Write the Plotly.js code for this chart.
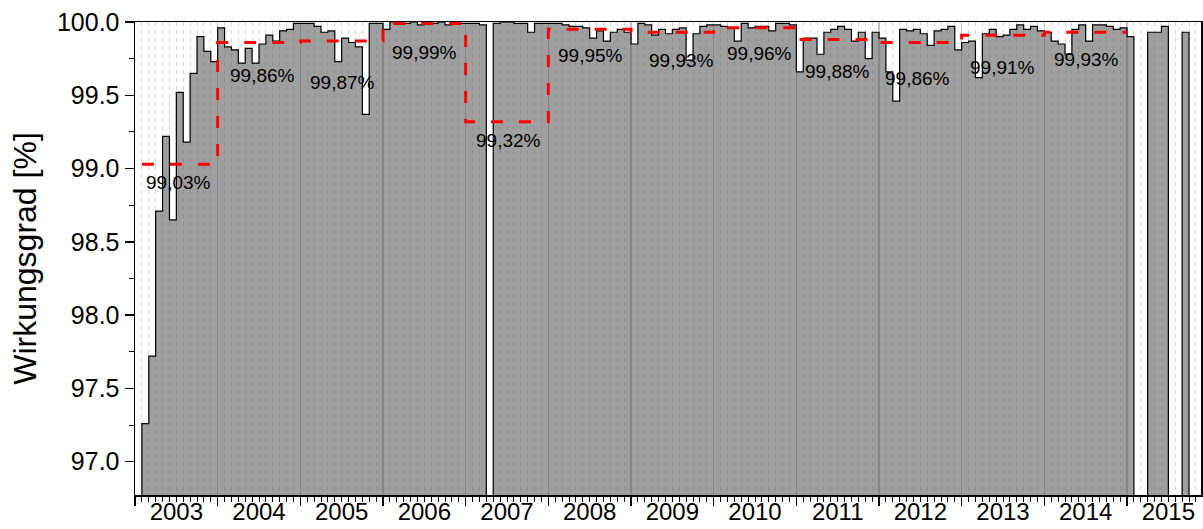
<!DOCTYPE html>
<html><head><meta charset="utf-8">
<script src="https://cdn.plot.ly/plotly-3.0.1.min.js"></script>
<style>html,body{margin:0;padding:0;background:#fff}</style>
</head><body>
<div id="chart" style="width:1203px;height:529px"></div>
<script>
// ---- data (monthly efficiency in %, null = no data) ----
const years = [2003, 2004, 2005, 2006, 2007, 2008, 2009, 2010, 2011, 2012, 2013, 2014, 2015];
const m2003 = [null, 97.26, 97.72, 98.71, 99.22, 98.65, 99.52, 99.18, 99.65, 99.90, 99.80, 99.73];
const m2004 = [99.96, 99.83, 99.81, 99.72, 99.82, 99.72, 99.85, 99.91, 99.87, 99.94, 99.95, 99.99];
const m2005 = [99.99, 99.99, 99.97, 99.93, 99.94, 99.73, 99.89, 99.86, 99.83, 99.37, 99.99, 99.99];
const m2006 = [99.95, 100.0, 100.0, 99.99, 100.0, 99.98, 99.99, 99.99, 100.0, 99.98, 99.99, 99.99];
const m2007 = [99.99, 99.99, 99.98, 92.00, 99.99, 100.0, 100.0, 99.99, 99.99, 99.93, 99.99, 99.99];
const m2008 = [99.99, 99.99, 99.98, 99.97, 99.97, 99.96, 99.89, 99.94, 99.87, 99.93, 99.95, 99.93];
const m2009 = [99.85, 99.99, 99.98, 99.91, 99.95, 99.92, 99.95, 99.96, 99.74, 99.92, 99.97, 99.98];
const m2010 = [99.98, 99.97, 99.96, 99.87, 99.99, 99.96, 99.97, 99.97, 99.94, 99.99, 99.99, 99.98];
const m2011 = [99.66, 99.89, 99.89, 99.78, 99.93, 99.95, 99.97, 99.95, 99.87, 99.93, 99.75, 99.93];
const m2012 = [99.89, 99.66, 99.46, 99.95, 99.94, 99.95, 99.92, 99.84, 99.94, 99.95, 99.97, 99.81];
const m2013 = [99.86, 99.87, 99.62, 99.92, 99.95, 99.90, 99.91, 99.95, 99.98, 99.95, 99.97, 99.94];
const m2014 = [99.93, 99.87, 99.85, 99.78, 99.95, 99.98, 99.87, 99.98, 99.98, 99.97, 99.95, 99.96];
const m2015 = [99.90, null, null, 99.93, 99.93, 99.97, null, null, 99.93];

// yearly averages as labelled in the chart (2003 - 2014)
const avgYears = [2003, 2004, 2005, 2006, 2007, 2008, 2009, 2010, 2011, 2012, 2013, 2014];
const yearAvg  = [99.03, 99.86, 99.87, 99.99, 99.32, 99.95, 99.93, 99.96, 99.88, 99.86, 99.91, 99.93];

// ---- label placement (style, pixels) ----
const labelDown  = [18, 33, 41, 29, 19, 26, 28, 26, 32, 36, 32, 27];
const labelShift = [2, 3, 1, 0, 1, 1, 9, 4, 0, -3, -1, 1];

const monthly = [].concat(m2003, m2004, m2005, m2006, m2007, m2008, m2009, m2010,
                          m2011, m2012, m2013, m2014, m2015);

// step outline / filled bars (months on a uniform axis, 1 unit = 1 month)
const stepX = [], stepY = [];
monthly.forEach((v, i) => { stepX.push(i); stepY.push(v === null ? 0 : v); });
stepX.push(monthly.length); stepY.push(0);

// yearly average dashed step line
const avgX = [], avgY = [];
avgYears.forEach((yr, k) => {
  const base = (yr - years[0]) * 12;
  let first = base;
  while (monthly[first] === null) first++;
  avgX.push(first, base + 12);
  avgY.push(yearAvg[k], yearAvg[k]);
});

const yearCenters = years.map(y => (y - years[0]) * 12 + 6);
const xRange = [0, 154.74];

const traces = [
  {
    type: 'scatter', mode: 'lines', x: stepX, y: stepY,
    line: {shape: 'hv', color: '#000', width: 1.2},
    fill: 'tozeroy', fillcolor: 'rgba(90,90,90,0.58)',
    hoverinfo: 'skip', showlegend: false
  },
  {
    type: 'scatter', mode: 'lines', x: avgX, y: avgY, xaxis: 'x2', yaxis: 'y',
    line: {color: '#ff0000', width: 3, dash: '12px,16px'},
    hoverinfo: 'skip', showlegend: false
  }
];

const annotations = avgYears.map((yr, k) => ({
  x: (yr - years[0]) * 12 + 6, y: yearAvg[k], xref: 'x', yref: 'y',
  text: yearAvg[k].toFixed(2).replace('.', ',') + '%',
  showarrow: false, yanchor: 'middle', xanchor: 'center',
  yshift: -labelDown[k], xshift: labelShift[k],
  font: {family: 'Liberation Sans, Arial, sans-serif', size: 19, color: '#000'}
}));

const layout = {
  width: 1203, height: 529,
  margin: {l: 135, r: 2, t: 22, b: 34, pad: 0},
  paper_bgcolor: '#fff', plot_bgcolor: '#fff',
  font: {family: 'Liberation Sans, Arial, sans-serif', color: '#000'},
  showlegend: false,
  xaxis: {
    range: xRange, tickmode: 'linear', tick0: 0, dtick: 12,
    ticks: 'outside', ticklen: 9, tickwidth: 1.5, tickcolor: '#000',
    showticklabels: false,
    showgrid: true, gridcolor: '#c4c4c4', gridwidth: 1.5,
    minor: {tickmode: 'linear', tick0: 0, dtick: 1, ticks: 'outside', ticklen: 5,
            tickwidth: 1, tickcolor: '#000', showgrid: true, gridcolor: '#d6d6d6',
            griddash: '4px,4px', gridwidth: 1},
    showline: true, linecolor: '#000', linewidth: 1.5, mirror: true, zeroline: false
  },
  xaxis2: {
    overlaying: 'x', anchor: 'y', side: 'bottom', range: xRange,
    tickmode: 'array', tickvals: yearCenters, ticktext: years.map(String),
    ticks: '', ticklabelstandoff: 0,
    showgrid: false, showline: false, zeroline: false,
    tickfont: {size: 24}
  },
  yaxis: {
    range: [96.773, 100.0], tickmode: 'linear', tick0: 97, dtick: 0.5, tickformat: '.1f',
    ticks: 'outside', ticklen: 9, tickwidth: 1.5, tickcolor: '#000',
    minor: {tickmode: 'linear', tick0: 97, dtick: 0.25, ticks: 'outside', ticklen: 5,
            tickwidth: 1, tickcolor: '#000', showgrid: false},
    showgrid: false, showline: true, linecolor: '#000', linewidth: 1.5, mirror: true,
    zeroline: false, tickfont: {size: 25},
    title: {text: 'Wirkungsgrad [%]', font: {size: 32}, standoff: 10}
  },
  annotations: annotations
};

Plotly.newPlot('chart', traces, layout, {staticPlot: true, displayModeBar: false});
</script>
</body></html>
